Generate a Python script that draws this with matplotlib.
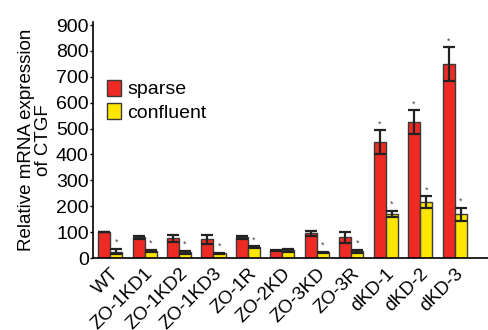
import matplotlib
matplotlib.use("Agg")
import matplotlib.pyplot as plt
import numpy as np

plt.rcParams['font.family'] = ['Liberation Sans', 'DejaVu Sans']

categories = ["WT", "ZO-1KD1", "ZO-1KD2", "ZO-1KD3", "ZO-1R", "ZO-2KD",
              "ZO-3KD", "ZO-3R", "dKD-1", "dKD-2", "dKD-3"]
sparse = [100, 80, 76, 73, 80, 30, 95, 80, 448, 525, 749]
sparse_err = [0, 6, 14, 17, 5, 3, 10, 20, 45, 45, 65]
confluent = [25, 27, 22, 18, 42, 30, 22, 27, 170, 216, 170]
confluent_err = [10, 4, 6, 3, 3, 6, 3, 6, 12, 23, 25]
sparse_star = [False]*8 + [True, True, True]
confluent_star = [True, True, True, True, True, False, True, True, True, True, True]
yticks = [0, 100, 200, 300, 400, 500, 600, 700, 800, 900]

fig = plt.figure(figsize=(4.89, 3.30), dpi=100)
ax = fig.add_axes([0.190, 0.218, 0.810, 0.714])

x = np.arange(len(categories))
w = 0.35
edge = '#3a3a3a'
ax.bar(x - w/2, sparse, w, color='#EE2A24', edgecolor=edge, linewidth=1.0, label='sparse', zorder=2)
ax.bar(x + w/2, confluent, w, color='#FFE600', edgecolor=edge, linewidth=1.0, label='confluent', zorder=2)
ax.errorbar(x - w/2, sparse, yerr=sparse_err, fmt='none', ecolor='#222222', elinewidth=1.6, capsize=4, capthick=1.6, zorder=3)
ax.errorbar(x + w/2, confluent, yerr=confluent_err, fmt='none', ecolor='#222222', elinewidth=1.6, capsize=4, capthick=1.6, zorder=3)

for i in range(len(categories)):
    if sparse_star[i]:
        ax.text(x[i] - w/2, sparse[i] + sparse_err[i] + 7, '*', ha='center', va='bottom', fontsize=6.5, color='#444444')
    if confluent_star[i]:
        ax.text(x[i] + w/2, confluent[i] + confluent_err[i] + 7, '*', ha='center', va='bottom', fontsize=6.5, color='#444444')

ax.set_xlim(-0.5, 11.0)
ax.set_ylim(0, 910)
ax.set_yticks(yticks)
ax.set_yticklabels([str(t) for t in yticks], fontsize=14)
ax.tick_params(axis='y', length=2, width=1, pad=1)
ax.set_xticks(x)
ax.set_xticklabels(categories, rotation=45, ha='right', rotation_mode='anchor', fontsize=13.5)
ax.tick_params(axis='x', length=0, pad=5)
for s in ['top', 'right']:
    ax.spines[s].set_visible(False)
ax.spines['left'].set_linewidth(1.2)
ax.spines['bottom'].set_linewidth(1.2)

ax.set_ylabel('Relative mRNA expression\nof CTGF', fontsize=13.5, linespacing=1.0, labelpad=3)

leg = ax.legend(loc='upper left', bbox_to_anchor=(0.015, 0.79), frameon=False, fontsize=14,
                handlelength=0.75, handleheight=0.9, handletextpad=0.3, labelspacing=0.25, borderaxespad=0)

fig.savefig('out.png', dpi=100)
